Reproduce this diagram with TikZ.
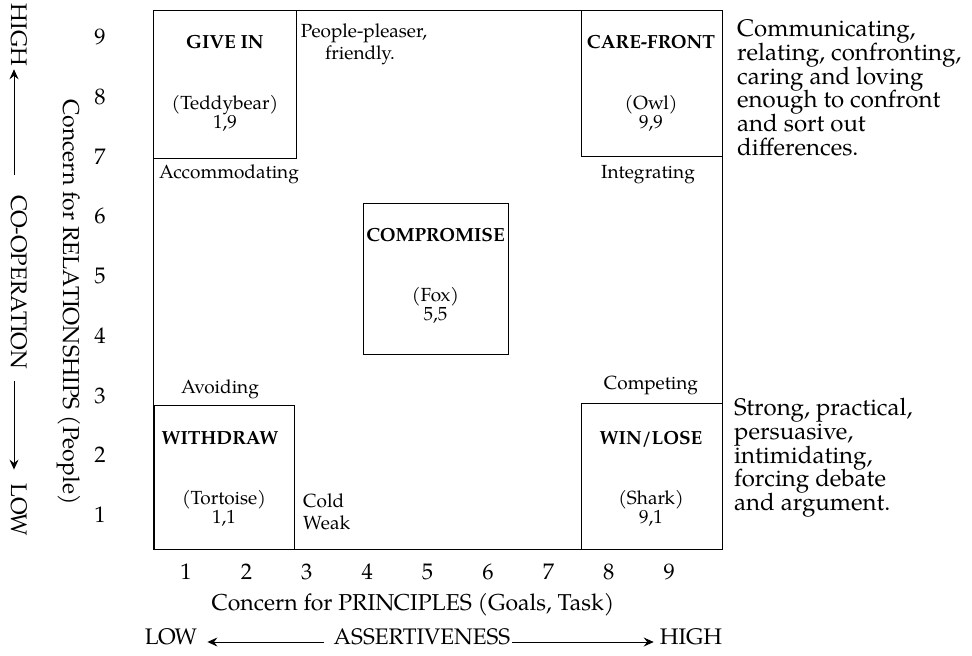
\documentclass[tikz,border=0pt]{standalone}
\usepackage{fontspec}
\setmainfont{texgyrepagella}[Extension=.otf, UprightFont=*-regular, BoldFont=*-bold, ItalicFont=*-italic, BoldItalicFont=*-bolditalic]
\usetikzlibrary{arrows.meta}
\tikzset{
  frm/.style={draw, line width=1.1pt, inner sep=0pt, anchor=north west},
  txt/.style={font=\fontsize{19}{22}\selectfont, inner sep=0pt, text height=0.7em, text depth=0.2em},
  btxt/.style={txt, font=\fontsize{19}{22}\selectfont\bfseries},
  big/.style={font=\fontsize{22.5}{24}\selectfont, inner sep=0pt, text height=0.7em, text depth=0.2em},
  desc/.style={font=\fontsize{24}{24}\selectfont, inner sep=0pt, text height=0.7em, text depth=0.2em, anchor=west},
  arr/.style={-{Stealth[length=10pt,width=9pt,inset=3.5pt]}, line width=0.9pt},
}
\begin{document}
\begin{tikzpicture}[x=1pt,y=-1pt]
\useasboundingbox (0,0) rectangle (972,656);
% frame and boxes
\node[frm, minimum width=569pt, minimum height=539pt] (frame) at (153,10) {};
\node[frm, minimum width=143pt, minimum height=148pt] (givein) at (153,10) {};
\node[frm, minimum width=141pt, minimum height=146pt] (care) at (581,10) {};
\node[frm, minimum width=145pt, minimum height=151pt] (comp) at (363,203) {};
\node[frm, minimum width=140pt, minimum height=144pt] (withd) at (154,405) {};
\node[frm, minimum width=141pt, minimum height=146pt] (winl) at (581,403) {};
% box texts
\node[btxt] (t1) at (225,46) {GIVE IN};
\node[txt] (t1a) at (225,107) {(Teddybear)};
\node[txt] (t1b) at (225,126) {1,9};
\node[btxt] (t2) at (651,46) {CARE-FRONT};
\node[txt] (t2a) at (651,107) {(Owl)};
\node[txt] (t2b) at (651,126) {9,9};
\node[btxt] (t3) at (435.5,239) {COMPROMISE};
\node[txt] (t3a) at (435.5,299) {(Fox)};
\node[txt] (t3b) at (435.5,318) {5,5};
\node[btxt] (t4) at (220,442) {WITHDRAW};
\node[txt] (t4a) at (224,502) {(Tortoise)};
\node[txt] (t4b) at (224,521) {1,1};
\node[btxt] (t5) at (651,442) {WIN/LOSE};
\node[txt] (t5a) at (651,502) {(Shark)};
\node[txt] (t5b) at (651,521) {9,1};
% side labels
\node[txt] (pp1) at (364,35) {People-pleaser,};
\node[txt] (pp2) at (360,57) {friendly.};
\node[txt] (acc) at (229,176) {Accommodating};
\node[txt] (integ) at (648,176) {Integrating};
\node[txt] (avoid) at (220,391) {Avoiding};
\node[txt] (compet) at (651,387) {Competing};
\node[txt, anchor=west] (cold) at (303,505) {Cold};
\node[txt, anchor=west] (weak) at (303,527) {Weak};
% right descriptions
\foreach \t [count=\i] in {Communicating{,}, relating{,} confronting{,}, caring and loving, enough to confront, and sort out, differences.}
  \node[desc] (ra\i) at (737,{34+23.8*(\i-1)}) {\t};
\foreach \t [count=\i] in {Strong{,} practical{,}, persuasive{,}, intimidating{,}, forcing debate, and argument.}
  \node[desc] (rb\i) at (734,{413+23.8*(\i-1)}) {\t};
% axis numbers
\foreach \k in {1,...,9} {
  \node[big] (yn\k) at (100,{42+(9-\k)*59.75}) {\k};
  \node[big] (xn\k) at ({186+(\k-1)*60.4},577) {\k};
}
% axis titles
\node[big, font=\fontsize{23}{24}\selectfont] (xt) at (413,608) {Concern for PRINCIPLES (Goals, Task)};
\node[big, rotate=-90, font=\fontsize{23}{24}\selectfont] (yt) at (66,302) {Concern for RELATIONSHIPS (People)};
% bottom assertiveness
\node[big] (blo) at (171,642) {LOW};
\node[big] (assert) at (422,642) {ASSERTIVENESS};
\node[big] (bhi) at (691,642) {HIGH};
\draw[arr, shorten <=10pt, shorten >=10pt] (assert.west) -- (blo.east);
\draw[arr, shorten <=2pt, shorten >=6pt] (assert.east) -- (bhi.west);
% left co-operation
\node[big, rotate=-90] (lhi) at (14,35) {HIGH};
\node[big, rotate=-90] (coop) at (14,282) {CO-OPERATION};
\node[big, rotate=-90] (llo) at (14,510) {LOW};
\draw[arr, shorten <=20pt, shorten >=3pt] (coop.west) -- (lhi.east);
\draw[arr, shorten <=12pt, shorten >=14pt] (coop.east) -- (llo.west);
\end{tikzpicture}
\end{document}
